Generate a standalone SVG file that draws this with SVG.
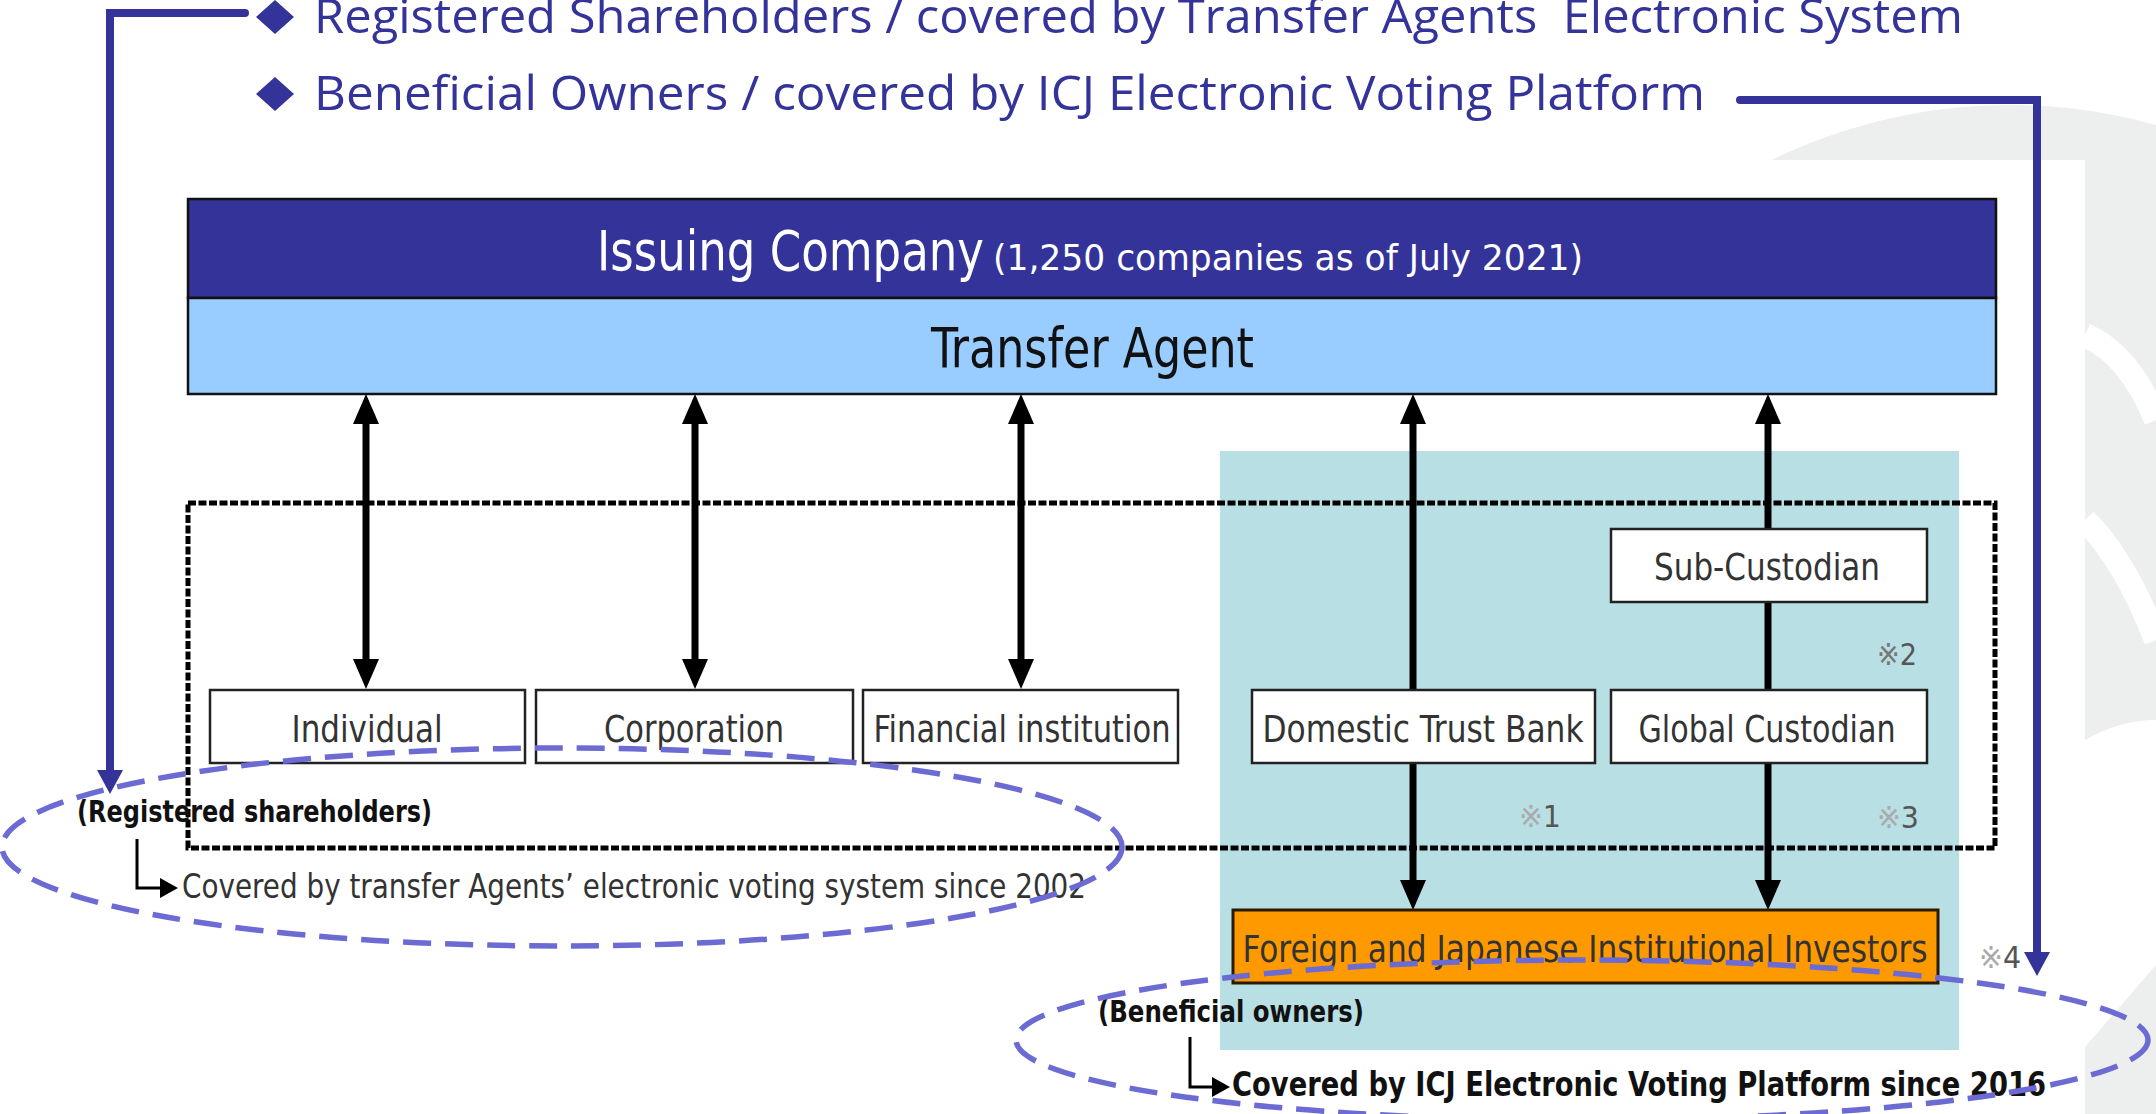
<svg xmlns="http://www.w3.org/2000/svg" width="2156" height="1114" viewBox="0 0 2156 1114">
<style>
.hdr{font-family:"Open Sans","Noto Sans","Liberation Sans",sans-serif;font-size:48px;fill:#333399}
.lbl{font-family:"DejaVu Sans Condensed","Liberation Sans Narrow","Liberation Sans",sans-serif;font-size:38px;fill:#333;text-anchor:middle}
.big{font-family:"DejaVu Sans Condensed","Liberation Sans Narrow","Liberation Sans",sans-serif}
.note{font-family:"DejaVu Sans Condensed","Liberation Sans","Noto Sans CJK JP",sans-serif;font-size:30px}
.box{fill:#fff;stroke:#222;stroke-width:2.5}
.shaft{stroke:#000;stroke-width:7;fill:none}
.ell{fill:none;stroke:#6B6BD3;stroke-width:5.5;stroke-dasharray:28 14}
.blue{fill:none;stroke:#333399;stroke-width:8;stroke-linecap:round}
.elb{fill:none;stroke:#000;stroke-width:3}
.wm{fill:none;stroke:#fff;stroke-width:24}
</style>
<defs>
<marker id="ah" viewBox="0 0 30 26" refX="0" refY="13" markerWidth="30" markerHeight="26" markerUnits="userSpaceOnUse" orient="auto-start-reverse"><path d="M0,0 L30,13 L0,26 z" fill="#000"/></marker>
<marker id="bh" viewBox="0 0 24 26" refX="0" refY="13" markerWidth="24" markerHeight="26" markerUnits="userSpaceOnUse" orient="auto"><path d="M0,0 L24,13 L0,26 z" fill="#333399"/></marker>
<marker id="sh" viewBox="0 0 18 20" refX="0" refY="10" markerWidth="18" markerHeight="20" markerUnits="userSpaceOnUse" orient="auto"><path d="M0,0 L18,10 L0,20 z" fill="#000"/></marker>
</defs>
<rect width="2156" height="1114" fill="#fff"/>
<g id="watermark">
<circle cx="2010" cy="650" r="545" fill="#EDEFEE"/>
<path class="wm" d="M2085,335 Q2130,355 2156,420"/>
<path class="wm" d="M2085,520 Q2125,560 2156,640"/>
<path d="M2085,740 Q2120,720 2156,720 L2156,965 L2085,1047 Z" fill="#fff"/>
<rect x="0" y="160" width="2085" height="954" fill="#fff"/>
</g>
<g id="header">
<path d="M275,0 L294,17 L275,34 L256,17 z" fill="#333399"/>
<text class="hdr" x="314" y="33" textLength="1649" lengthAdjust="spacingAndGlyphs" xml:space="preserve">Registered Shareholders / covered by Transfer Agents  Electronic System</text>
<path d="M275,77 L294,94 L275,111 L256,94 z" fill="#333399"/>
<text class="hdr" x="314" y="110" textLength="1391" lengthAdjust="spacingAndGlyphs">Beneficial Owners / covered by ICJ Electronic Voting Platform</text>
</g>
<g id="beneficial-area">
<rect x="1220" y="451" width="739" height="599" fill="#B8DFE4"/>
</g>
<g id="registered-area">
<rect x="188" y="503" width="1807" height="345" fill="none" stroke="#000" stroke-width="5" stroke-dasharray="8 2.5"/>
</g>
<g id="issuing-company">
<rect x="188" y="199" width="1808" height="99" fill="#333399" stroke="#111" stroke-width="2.5"/>
<text class="big" y="270" fill="#fff"><tspan x="597" font-size="55" textLength="387" lengthAdjust="spacingAndGlyphs">Issuing Company</tspan><tspan x="993" font-size="35" textLength="590" lengthAdjust="spacingAndGlyphs">(1,250 companies as of July 2021)</tspan></text>
</g>
<g id="transfer-agent">
<rect x="188" y="298" width="1808" height="96" fill="#99CCFF" stroke="#111" stroke-width="2.5"/>
<text class="big" x="931" y="367" font-size="55" fill="#111" textLength="323" lengthAdjust="spacingAndGlyphs">Transfer Agent</text>
</g>
<g id="connectors">
<line class="shaft" x1="366" y1="424" x2="366" y2="659" marker-start="url(#ah)" marker-end="url(#ah)"/>
<line class="shaft" x1="695" y1="424" x2="695" y2="659" marker-start="url(#ah)" marker-end="url(#ah)"/>
<line class="shaft" x1="1021" y1="424" x2="1021" y2="659" marker-start="url(#ah)" marker-end="url(#ah)"/>
<line class="shaft" x1="1413" y1="424" x2="1413" y2="690" marker-start="url(#ah)"/>
<line class="shaft" x1="1413" y1="763" x2="1413" y2="880" marker-end="url(#ah)"/>
<line class="shaft" x1="1768" y1="424" x2="1768" y2="529" marker-start="url(#ah)"/>
<line class="shaft" x1="1768" y1="602" x2="1768" y2="690"/>
<line class="shaft" x1="1768" y1="763" x2="1768" y2="880" marker-end="url(#ah)"/>
<path class="elb" d="M137,839 V888 H160" marker-end="url(#sh)"/>
<path class="elb" d="M1190,1037 V1087 H1212" marker-end="url(#sh)"/>
</g>
<g id="individual"><rect class="box" x="210" y="690" width="315" height="73"/><text class="lbl" x="367" y="742" textLength="151" lengthAdjust="spacingAndGlyphs">Individual</text></g>
<g id="corporation"><rect class="box" x="536" y="690" width="317" height="73"/><text class="lbl" x="694" y="742" textLength="180" lengthAdjust="spacingAndGlyphs">Corporation</text></g>
<g id="financial-institution"><rect class="box" x="863" y="690" width="315" height="73"/><text class="lbl" x="1022" y="742" textLength="297" lengthAdjust="spacingAndGlyphs">Financial institution</text></g>
<g id="domestic-trust-bank"><rect class="box" x="1252" y="690" width="343" height="73"/><text class="lbl" x="1423" y="742" textLength="321" lengthAdjust="spacingAndGlyphs">Domestic Trust Bank</text></g>
<g id="global-custodian"><rect class="box" x="1611" y="690" width="316" height="73"/><text class="lbl" x="1767" y="742" textLength="257" lengthAdjust="spacingAndGlyphs">Global Custodian</text></g>
<g id="sub-custodian"><rect class="box" x="1611" y="529" width="316" height="73"/><text class="lbl" x="1767" y="580" textLength="226" lengthAdjust="spacingAndGlyphs">Sub-Custodian</text></g>
<g id="institutional-investors"><rect x="1233" y="910" width="705" height="73" fill="#FF9900" stroke="#2a1a00" stroke-width="3"/><text class="lbl" x="1585" y="962" fill="#3a2a08" textLength="685" lengthAdjust="spacingAndGlyphs">Foreign and Japanese Institutional Investors</text></g>
<g id="notes">
<text class="note" x="1519" y="827" textLength="42" lengthAdjust="spacingAndGlyphs"><tspan fill="#aaa">※</tspan><tspan fill="#555">1</tspan></text>
<text class="note" x="1877" y="665" textLength="40" lengthAdjust="spacingAndGlyphs"><tspan fill="#777">※</tspan><tspan fill="#555">2</tspan></text>
<text class="note" x="1877" y="828" textLength="42" lengthAdjust="spacingAndGlyphs"><tspan fill="#aaa">※</tspan><tspan fill="#555">3</tspan></text>
<text class="note" x="1979" y="968" textLength="42" lengthAdjust="spacingAndGlyphs"><tspan fill="#aaa">※</tspan><tspan fill="#555">4</tspan></text>
</g>
<g id="registered-label">
<text class="big" x="77" y="822" font-size="30" font-weight="bold" fill="#111" textLength="355" lengthAdjust="spacingAndGlyphs">(Registered shareholders)</text>
<text class="big" x="182" y="898" font-size="33" fill="#333" textLength="904" lengthAdjust="spacingAndGlyphs">Covered by transfer Agents’ electronic voting system since 2002</text>
</g>
<g id="beneficial-label">
<text class="big" x="1098" y="1022" font-size="30" font-weight="bold" fill="#111" textLength="266" lengthAdjust="spacingAndGlyphs">(Beneficial owners)</text>
<text class="big" x="1232" y="1096" font-size="33" font-weight="bold" fill="#111" textLength="814" lengthAdjust="spacingAndGlyphs">Covered by ICJ Electronic Voting Platform since 2016</text>
</g>
<g id="highlights">
<ellipse class="ell" cx="562" cy="847" rx="560" ry="99"/>
<ellipse class="ell" cx="1582" cy="1040" rx="566" ry="80"/>
</g>
<g id="callouts">
<path class="blue" d="M245,13 H110 V770" marker-end="url(#bh)"/>
<path class="blue" d="M1740,100 H2037 V952" marker-end="url(#bh)"/>
</g>
</svg>
